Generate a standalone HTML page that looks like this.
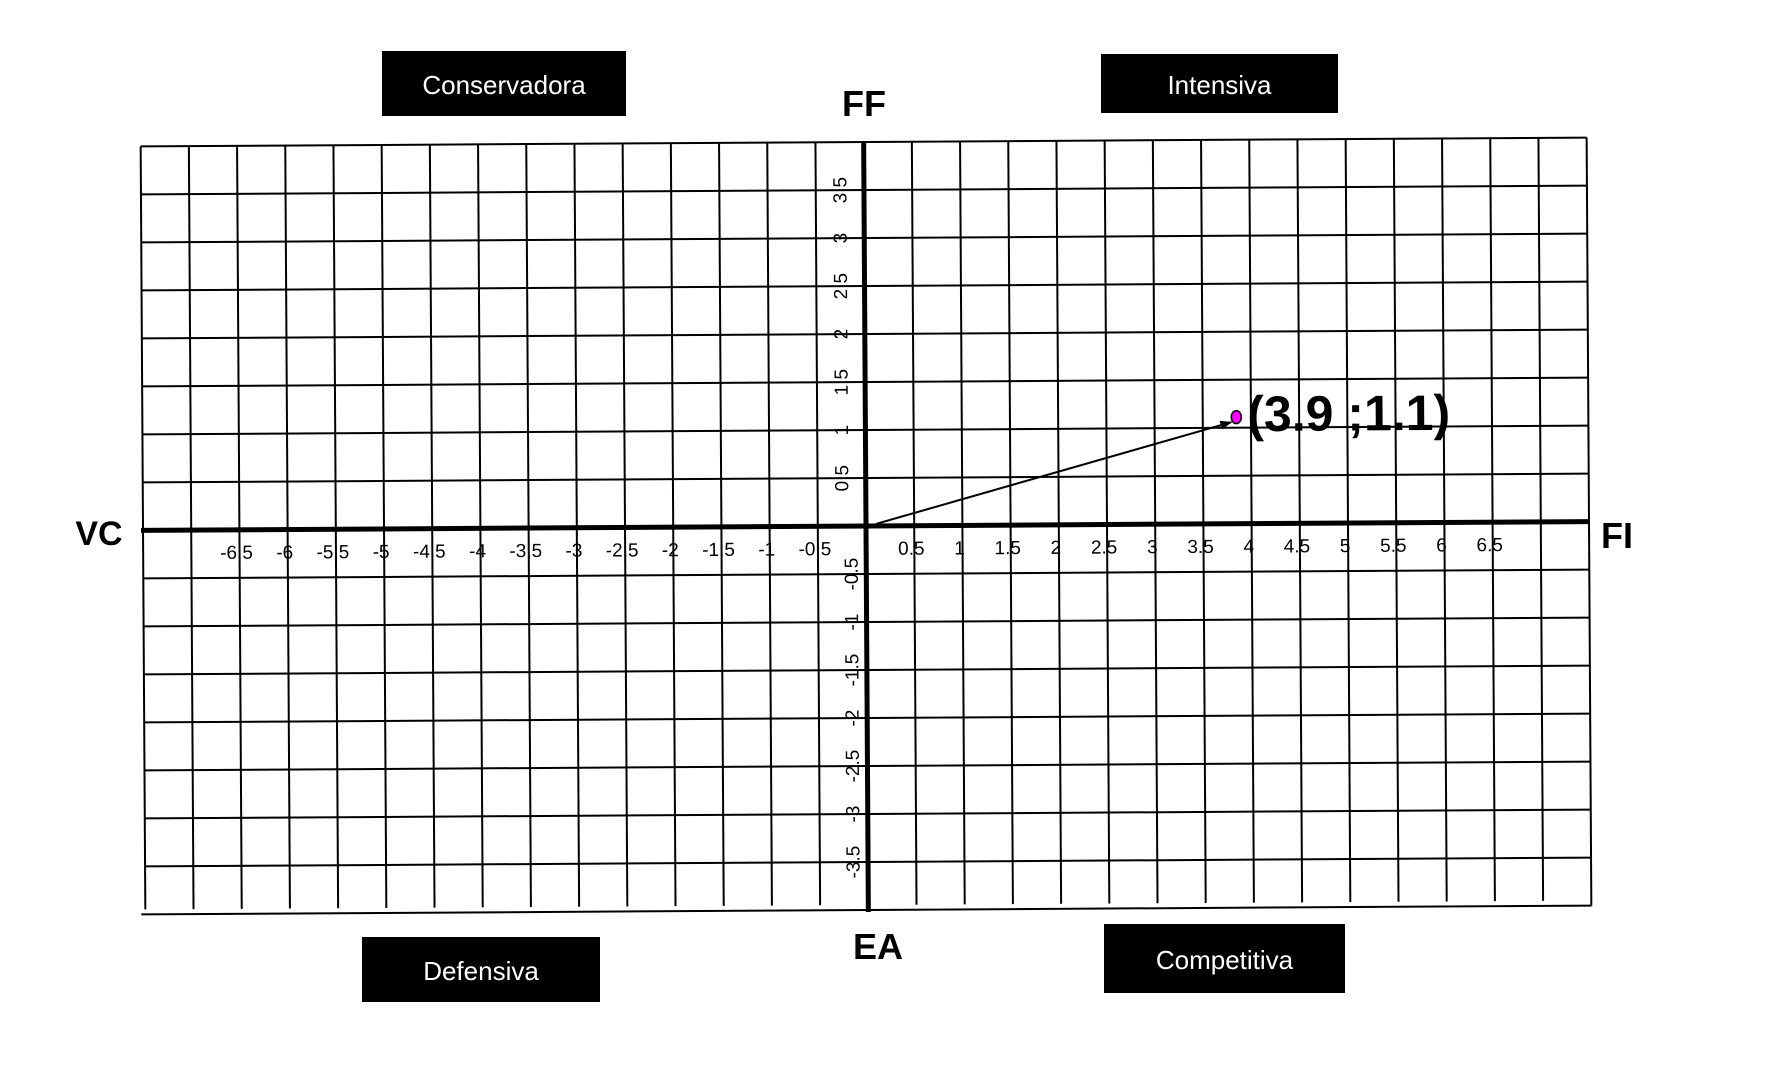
<!DOCTYPE html>
<html>
<head>
<meta charset="utf-8">
<style>
  html,body{margin:0;padding:0;background:#fff;}
  body{width:1771px;height:1069px;overflow:hidden;position:relative;font-family:"Liberation Sans",sans-serif;}
  .box{position:absolute;background:#000;color:#fff;font-size:26px;display:flex;align-items:center;justify-content:center;padding-top:3px;box-sizing:border-box;}
  svg{position:absolute;left:0;top:0;}
</style>
</head>
<body>
<div class="box" style="left:382px;top:51px;width:244px;height:65px;">Conservadora</div>
<div class="box" style="left:1101px;top:54px;width:237px;height:59px;">Intensiva</div>
<div class="box" style="left:362px;top:937px;width:238px;height:65px;">Defensiva</div>
<div class="box" style="left:1104px;top:924px;width:241px;height:69px;">Competitiva</div>

<svg id="chart" width="1771" height="1069">
  <text x="864" y="116" font-size="36" font-weight="bold" text-anchor="middle" font-family="Liberation Sans, sans-serif">FF</text>
  <text x="99" y="545" font-size="34" font-weight="bold" text-anchor="middle" font-family="Liberation Sans, sans-serif">VC</text>
  <text x="1601" y="548" font-size="36" font-weight="bold" font-family="Liberation Sans, sans-serif">FI</text>
  <text x="878" y="959" font-size="36" font-weight="bold" text-anchor="middle" font-family="Liberation Sans, sans-serif">EA</text>
  <g id="plot" transform="rotate(-0.35 866 526)"></g>
</svg>

<script>
const xTicks = [-6.5,-6,-5.5,-5,-4.5,-4,-3.5,-3,-2.5,-2,-1.5,-1,-0.5,0.5,1,1.5,2,2.5,3,3.5,4,4.5,5,5.5,6,6.5];
const yTicks = [3.5,3,2.5,2,1.5,1,0.5,-0.5,-1,-1.5,-2,-2.5,-3,-3.5];
const pointX = [3.9];
const pointY = [1.1];
const pointLabels = ["(3.9 ;1.1)"];

const NS = "http://www.w3.org/2000/svg";
const g = document.getElementById('plot');
const ox = 866, oy = 526, cw = 48.2, ch = 48, unit = 0.5;
const xMin = -7.5, xMax = 7.5, yMin = -4, yMax = 4;
function sx(v){ return ox + v/unit*cw; }
function sy(v){ return oy - v/unit*ch; }
function mk(tag, attrs){ const e = document.createElementNS(NS, tag); for (const k in attrs) e.setAttribute(k, attrs[k]); g.appendChild(e); return e; }

for (let v = xMin; v <= xMax + 1e-9; v += unit) {
  const l = mk('line', {x1:sx(v), y1:sy(yMax), x2:sx(v), y2:sy(yMin)+(v===xMax?0:-5), stroke:'#000', 'stroke-width':2});
  
  
}
for (let v = yMin; v <= yMax + 1e-9; v += unit) {
  const l = mk('line', {x1:sx(xMin)-(v===yMin?4:0), y1:sy(v), x2:sx(xMax), y2:sy(v), stroke:'#000', 'stroke-width':2});
  
  
}
const xa = mk('line', {x1:sx(xMin)-2, y1:oy, x2:sx(xMax), y2:oy, stroke:'#000', 'stroke-width':5});


const ya = mk('line', {x1:ox, y1:sy(yMax), x2:ox, y2:sy(yMin)+2, stroke:'#000', 'stroke-width':5});



xTicks.forEach(v => {
  const t = mk('text', {x:sx(v)-3, y:oy+29, 'font-size':19, 'text-anchor':'middle', 'font-family':'Liberation Sans, sans-serif'});
  t.textContent = String(v);
  
  
});
yTicks.forEach(v => {
  const cx = v > 0 ? ox - 23 : ox - 14;
  const cy = sy(v);
  const t = mk('text', {x:cx, y:cy, 'font-size':19, 'text-anchor':'middle', 'dominant-baseline':'central', 'font-family':'Liberation Sans, sans-serif', transform:`rotate(-90 ${cx} ${cy})`});
  t.textContent = String(v);
  
  
});

const defs = document.createElementNS(NS, 'defs');
defs.innerHTML = '<marker id="ah" markerWidth="12" markerHeight="9" refX="11" refY="4.5" orient="auto" markerUnits="userSpaceOnUse"><path d="M0,0 L12,4.5 L0,9 z" fill="#000"/></marker>';
g.appendChild(defs);
pointX.forEach((px, i) => {
  const x = sx(px), y = sy(pointY[i]);
  const a = mk('line', {x1:ox+10, y1:oy-2, x2:x-10, y2:y+4, stroke:'#000', 'stroke-width':2, 'marker-end':'url(#ah)'});
  
  
  const c = mk('ellipse', {cx:x-5, cy:y-1, rx:5, ry:6.5, fill:'#ff00ff', stroke:'#000', 'stroke-width':1.5});
  
  
  const t = mk('text', {x:x+6, y:y+13, 'font-size':50, 'font-weight':'bold', 'font-family':'Liberation Sans, sans-serif'});
  t.textContent = pointLabels[i];
  
  
});
</script>
</body>
</html>
